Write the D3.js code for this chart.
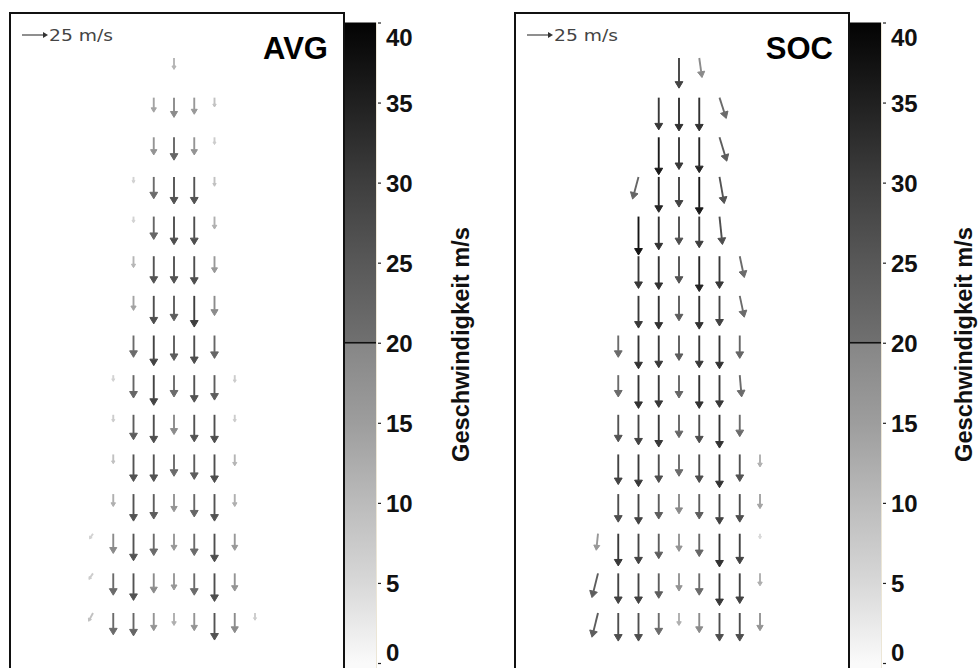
<!DOCTYPE html>
<html><head><meta charset="utf-8">
<script src="https://cdn.jsdelivr.net/npm/d3@7"></script>
<style>body{margin:0;background:#fff}svg{display:block}</style>
</head><body>
<svg id="c" width="978" height="668"></svg>
<script>
// ---------------- data ----------------
const panelNames = ["AVG", "SOC"];
const colorTicks = [0, 5, 10, 15, 20, 25, 30, 35, 40];
const colorLabel = "Geschwindigkeit m/s";
const refSpeed = 25;
const refLabel = "25 m/s";
// speeds (m/s), rows top->bottom, 9 columns left->right; null = no arrow
const avgSpeed = [
  [null,null,null,null,11,null,null,null,null],
  [null,null,null,14,19,16,9,null,null],
  [null,null,null,17,22,17,7,null,null],
  [null,null,6,21,26,26,9,null,null],
  [null,null,6,22,27,27,12,null,null],
  [null,null,11,26,26,27,16,null,null],
  [null,null,14,27,24,30,19,null,null],
  [null,null,21,29,24,27,22,null,null],
  [null,6,22,29,21,26,24,7,null],
  [null,7,24,27,19,26,27,7,null],
  [null,9,26,26,21,24,27,11,null],
  [null,12,26,24,17,22,26,12,null],
  [6,19,26,21,16,21,27,16,null],
  [7,21,26,19,16,21,27,17,null],
  [9,21,22,17,12,17,26,19,7]
];
const socSpeed = [
  [null,null,null,null,29,19,null,null,null],
  [null,null,null,31,32,32,21,null,null],
  [null,null,null,36,31,34,24,null,null],
  [null,null,22,34,29,36,26,null,null],
  [null,null,37,32,27,30,27,null,null],
  [null,null,31,32,26,34,31,21,null],
  [null,null,31,32,24,32,29,21,null],
  [null,21,32,31,24,31,32,22,null],
  [null,21,32,31,22,32,31,21,null],
  [null,26,29,31,22,27,32,21,null],
  [null,29,31,27,21,27,32,26,12],
  [null,27,29,24,19,24,29,27,14],
  [16,31,29,24,17,22,32,29,5],
  [24,29,29,24,17,21,31,29,12],
  [24,27,27,21,12,19,27,27,17]
];
// direction overrides [row, col, degrees clockwise from north]; default 180 (south)
const avgDir = [[12,0,214],[13,0,214],[14,0,208]];
const socDir = [[0,5,172],[1,6,162],[2,6,163],[3,6,170],[4,6,174],[5,7,168],[6,7,168],[8,7,175],
                [3,2,195],[12,0,186],[13,0,194],[14,0,194]];

// ---------------- drawing ----------------
const svg = d3.select("#c");
const font = "'Liberation Sans', Arial, sans-serif";

const colStops = [0, 5, 10, 15, 19.99, 20.01, 25, 30, 35, 40];
const grayStops = [250, 216, 187, 157, 134, 112, 88, 62, 32, 3];
const color = d3.scaleLinear().domain(colStops)
  .range(grayStops.map(g => d3.rgb(g, g, g).formatHex()));

const cbY = d3.scaleLinear().domain([0, 40]).range([663, 22.5]);
const lenScale = d3.scaleLinear().domain([0, refSpeed]).range([0, 26]);

// gradient
const defs = svg.append("defs");
const grad = defs.append("linearGradient").attr("id", "cbar")
  .attr("gradientUnits", "userSpaceOnUse")
  .attr("x1", 0).attr("x2", 0).attr("y1", cbY(0)).attr("y2", cbY(40));
colStops.forEach(v => grad.append("stop").attr("offset", v / 40).attr("stop-color", color(v)));

function arrowPath(x, y, L, deg, hmax) {
  const r = deg * Math.PI / 180;
  const ux = Math.sin(r), uy = -Math.cos(r);
  const hx = x + L * ux, hy = y + L * uy;
  const h = Math.min(hmax, Math.max(2.5, L * 0.3)), w = h * 0.6;
  const bx = hx - h * ux, by = hy - h * uy;
  const px = -uy, py = ux;
  return {
    shaft: `M${x},${y}L${bx},${by}`,
    head: `M${hx},${hy}L${bx + w * px},${by + w * py}L${bx - w * px},${by - w * py}Z`
  };
}

const panelData = [
  {speed: avgSpeed, dir: avgDir, labelX: 469},
  {speed: socSpeed, dir: socDir, labelX: 467}
];

panelNames.forEach((name, pi) => {
  const ox = pi * 505;
  const g = svg.append("g").attr("transform", `translate(${ox},0)`);

  // plot box
  g.append("rect").attr("x", 10).attr("y", 13).attr("width", 334).attr("height", 700)
    .attr("fill", "#fff").attr("stroke", "#111").attr("stroke-width", 2);

  // reference arrow
  const ra = arrowPath(22, 35, lenScale(refSpeed), 90, 5);
  g.append("path").attr("d", ra.shaft).attr("stroke", "#333").attr("stroke-width", 1.1).attr("fill", "none");
  g.append("path").attr("d", ra.head).attr("fill", "#333");
  g.append("text").attr("x", 49).attr("y", 41).text(refLabel)
    .attr("font-family", "'DejaVu Sans', Verdana, sans-serif").attr("font-size", 15)
    .attr("fill", "#444").attr("textLength", 64).attr("lengthAdjust", "spacingAndGlyphs");

  // title
  g.append("text").attr("x", 328).attr("y", 59).attr("text-anchor", "end").text(name)
    .attr("font-family", font).attr("font-weight", "bold").attr("font-size", 31).attr("fill", "#000");

  // arrows
  const {speed, dir, labelX} = panelData[pi];
  const xS = d3.scaleLinear().domain([0, 8]).range([93, 255]);
  const yS = d3.scaleLinear().domain([0, speed.length - 1]).range([58, 613]);
  const dirMap = new Map(dir.map(d => [d[0] + "_" + d[1], d[2]]));
  const arrows = [];
  speed.forEach((row, ri) => row.forEach((s, ci) => {
    if (s == null) return;
    arrows.push({ri, ci, s, d: dirMap.get(ri + "_" + ci) ?? 180});
  }));
  const ag = g.append("g");
  arrows.forEach(a => {
    const p = arrowPath(xS(a.ci), yS(a.ri), lenScale(a.s), a.d, 6.5);
    const c = color(a.s);
    ag.append("path").attr("d", p.shaft).attr("stroke", c).attr("stroke-width", 1.9).attr("fill", "none");
    ag.append("path").attr("d", p.head).attr("fill", c).attr("stroke", c).attr("stroke-width", 1);
  });

  // colorbar
  g.append("rect").attr("x", 345).attr("y", cbY(40)).attr("width", 31).attr("height", 668 - cbY(40))
    .attr("fill", "url(#cbar)");
  g.append("line").attr("x1", 376.5).attr("x2", 376.5).attr("y1", cbY(40)).attr("y2", 668)
    .attr("stroke", "#ece6d6").attr("stroke-width", 1);
  g.append("line").attr("x1", 344).attr("x2", 376).attr("y1", cbY(20)).attr("y2", cbY(20))
    .attr("stroke", "#111").attr("stroke-width", 1.6);

  const axis = d3.axisRight(cbY).tickValues(colorTicks).tickSize(3).tickPadding(5).tickFormat(d3.format("d"));
  const ax = g.append("g").attr("transform", "translate(378,0)").call(axis);
  ax.select(".domain").remove();
  ax.selectAll(".tick line").attr("stroke", "#222").attr("stroke-width", 1.2);
  ax.selectAll(".tick text").attr("font-family", font).attr("font-weight", "bold")
    .attr("font-size", 24).attr("fill", "#111")
    .attr("dy", d => d === 40 ? "0.95em" : d === 0 ? "-0.1em" : "0.36em");

  // label
  g.append("text").attr("transform", `translate(${labelX},344.5) rotate(-90)`)
    .attr("text-anchor", "middle").text(colorLabel)
    .attr("font-family", font).attr("font-weight", "bold").attr("font-size", 24).attr("fill", "#111")
    .attr("textLength", 235).attr("lengthAdjust", "spacingAndGlyphs");
});
</script>
</body></html>
